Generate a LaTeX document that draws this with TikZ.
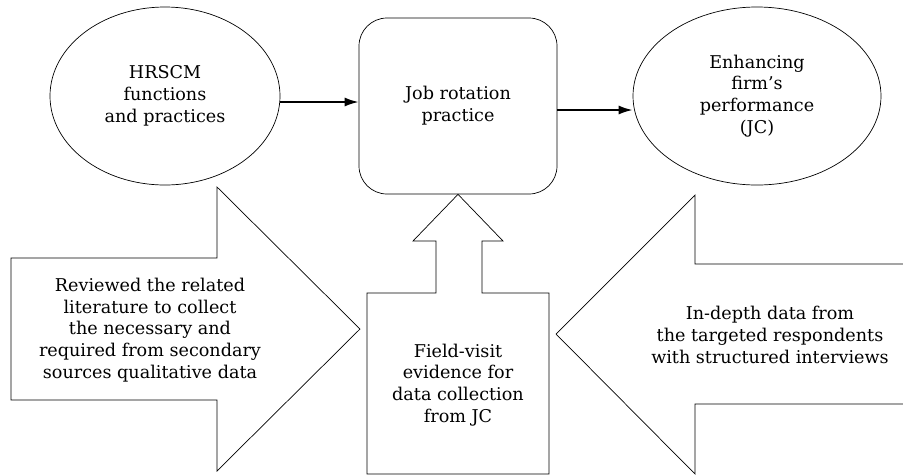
\documentclass[tikz,border=0pt]{standalone}
\usepackage{fontspec}
\setmainfont{DejaVu Serif}
\usetikzlibrary{shapes.geometric,arrows.meta,positioning}

\tikzset{
  bubble/.style={ellipse, draw, line width=0.7pt, inner sep=0pt, align=center},
  roundbox/.style={rectangle, draw, line width=0.7pt, rounded corners=28pt,
    minimum width=198pt, minimum height=176pt, align=center},
  bigarrow/.style={draw, line width=0.7pt, line join=miter},
  txt/.style={align=center, inner sep=0pt},
  flow/.style={-{Latex[length=14pt,width=9pt]}, line width=1.8pt}
}

\begin{document}
\begin{tikzpicture}[x=1pt,y=-1pt,font=\fontsize{17.6}{21.8}\selectfont]
    \useasboundingbox (0,0) rectangle (903,475);
    \clip (0,0) rectangle (903,475);

    % top row
    \node[bubble, minimum width=230pt, minimum height=178pt] (hrscm) at (165,96) {HRSCM\\functions\\and practices};
    \node[roundbox] (job) at (458,106) {Job rotation\\practice};
    \node[bubble, minimum width=248pt, minimum height=178pt] (perf) at (757,96) {Enhancing\\firm’s\\performance\\(JC)};

    \draw[flow] ([yshift=-6pt]hrscm.east) -- ([yshift=-6pt]hrscm.east -| job.west);
    \draw[flow] ([yshift=-4pt]job.east) -- ([yshift=-4pt]job.east -| perf.west);

    % bottom row
    \draw[bigarrow] (11,258) -- (217,258) -- (217,187) -- (360,329) -- (217,471) -- (217,400) -- (11,400) -- cycle;
    \node[txt] (lit) at (150,330) {Reviewed the related\\literature to collect\\the necessary and\\required from secondary\\sources qualitative data};

    \draw[bigarrow] (367,474) |- (436,293) |- (413,241) -- (job.south) -- (503,241) -| (482,293) -| (549,474) -- cycle;
    \node[txt] (field) at (458,385) {Field-visit\\evidence for\\data collection\\from JC};

    \draw[bigarrow] (912,264) -- (695,264) -- (695,195) -- (556,334) -- (695,474) -- (695,404) -- (912,404);
    \node[txt] (depth) at (770,335) {In-depth data from\\the targeted respondents\\with structured interviews};
\end{tikzpicture}
\end{document}
